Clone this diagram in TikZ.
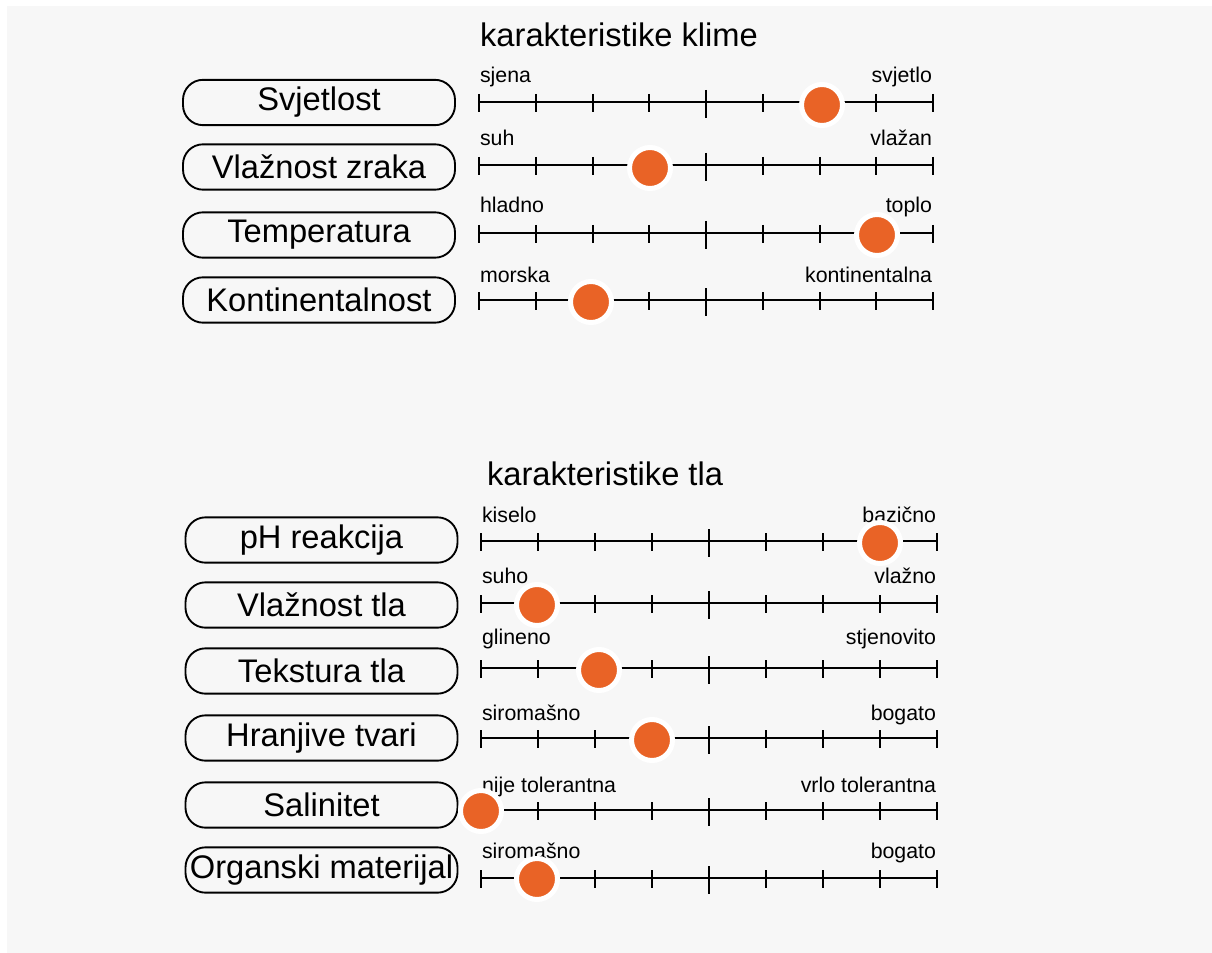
\documentclass[tikz,border=0pt]{standalone}
\usepackage{fontspec}
\setmainfont{Liberation Sans}
\usetikzlibrary{positioning}
\definecolor{dotorange}{RGB}{233,99,38}
\definecolor{bggray}{RGB}{247,247,247}
\tikzset{every picture/.style={line width=1.5pt}}

\begin{document}
\begin{tikzpicture}[x=0.75pt,y=-0.75pt,
  namebox/.style={draw, line width=1.4pt, rounded corners=15pt, minimum width=204pt,
    minimum height=34pt, inner sep=0pt, font=\fontsize{24.5}{29}\selectfont},
  scalelabel/.style={inner sep=0pt, font=\fontsize{16}{19}\selectfont},
  heading/.style={inner sep=0pt, anchor=base, font=\fontsize{24.5}{29}\selectfont},
  dot/.style={circle, fill=dotorange, draw=white, line width=3.75pt,
    minimum size=30.75pt, inner sep=0pt}]
\useasboundingbox (0,0) rectangle (1212,952);
\fill[white] (0,0) rectangle (1212,952);
\fill[bggray] (7,6) rectangle (1213,953);
%
\node[heading] (klima) at (619,47) {karakteristike klime};
\node[heading] (tlo) at (605,485) {karakteristike tla};
%
\node[namebox] (svjetlost) at (319,102.5) {Svjetlost};
\node[namebox] (vlagazrak) at (319,167) {Vlažnost zraka};
\node[namebox] (temp) at (319,235) {Temperatura};
\node[namebox] (kont) at (319,300) {Kontinentalnost};
%
\node[namebox] (ph) at (321.5,540) {pH reakcija};
\node[namebox] (vlagatlo) at (321.5,605) {Vlažnost tla};
\node[namebox] (tekstura) at (321.5,671) {Tekstura tla};
\node[namebox] (hrana) at (321.5,738) {Hranjive tvari};
\node[namebox] (sol) at (321.5,805) {Salinitet};
\node[namebox] (organ) at (321.5,870) {Organski materijal};
%
\node[scalelabel, anchor=base west] (l1) at (479,83) {sjena};
\node[scalelabel, anchor=base east] (r1) at (933,83) {svjetlo};
\node[scalelabel, anchor=base west] (l2) at (479,146) {suh};
\node[scalelabel, anchor=base east] (r2) at (933,146) {vlažan};
\node[scalelabel, anchor=base west] (l3) at (479,213) {hladno};
\node[scalelabel, anchor=base east] (r3) at (933,213) {toplo};
\node[scalelabel, anchor=base west] (l4) at (479,282) {morska};
\node[scalelabel, anchor=base east] (r4) at (933,282) {kontinentalna};
%
\node[scalelabel, anchor=base west] (l5) at (481,522) {kiselo};
\node[scalelabel, anchor=base east] (r5) at (937,522) {bazično};
\node[scalelabel, anchor=base west] (l6) at (481,583) {suho};
\node[scalelabel, anchor=base east] (r6) at (937,583) {vlažno};
\node[scalelabel, anchor=base west] (l7) at (481,644) {glineno};
\node[scalelabel, anchor=base east] (r7) at (937,644) {stjenovito};
\node[scalelabel, anchor=base west] (l8) at (481,720) {siromašno};
\node[scalelabel, anchor=base east] (r8) at (937,720) {bogato};
\node[scalelabel, anchor=base west] (l9) at (481,792) {nije tolerantna};
\node[scalelabel, anchor=base east] (r9) at (937,792) {vrlo tolerantna};
\node[scalelabel, anchor=base west] (l10) at (481,858) {siromašno};
\node[scalelabel, anchor=base east] (r10) at (937,858) {bogato};
%
\foreach \y/\xa/\xb in {%
	102/479/933, 165/479/933, 233/479/933, 300/479/933,
	541/481/937, 603/481/937, 668/481/937, 738/481/937,
	810/481/937, 878/481/937%
    }{
\draw (\xa,\y) -- (\xb,\y);
\foreach \t in {0,...,8}{
  \pgfmathsetmacro\xt{\xa+\t*(\xb-\xa)/8}
  \ifnum\t=4
    \draw (\xt,\y-12) -- (\xt,\y+16);
  \else
    \draw (\xt,\y-8) -- (\xt,\y+10);
  \fi
}
}
%
\node[dot] (d1) at (822,105) {};
\node[dot] (d2) at (650,168) {};
\node[dot] (d3) at (877,235) {};
\node[dot] (d4) at (591,302) {};
\node[dot] (d5) at (880,543) {};
\node[dot] (d6) at (537,605) {};
\node[dot] (d7) at (599,670) {};
\node[dot] (d8) at (652,740) {};
\node[dot] (d9) at (481,811) {};
\node[dot] (d10) at (537,879) {};
\end{tikzpicture}
\end{document}
